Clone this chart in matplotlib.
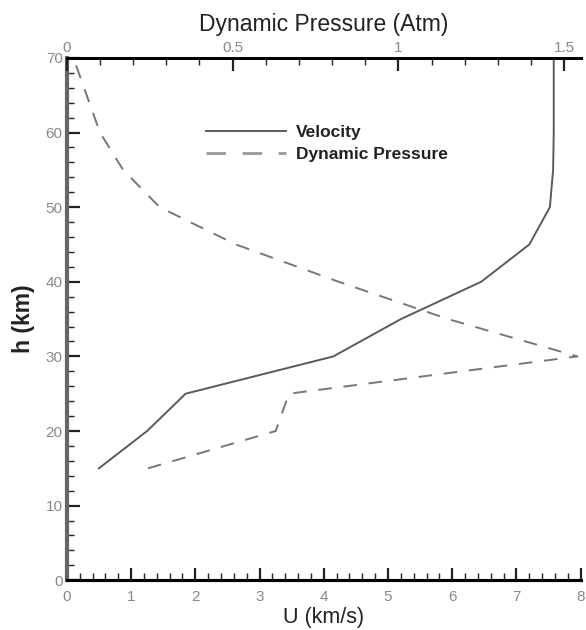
import matplotlib
matplotlib.use("Agg")
import matplotlib.pyplot as plt
from matplotlib.ticker import MultipleLocator

# altitude nodes (km)
h_vel = [15, 20, 25, 30, 35, 40, 45, 50, 55, 60, 65, 70]
velocity = [0.5, 1.25, 1.85, 4.15, 5.2, 6.45, 7.2, 7.52, 7.57, 7.58, 7.58, 7.58]

h_q = [15, 20, 25, 30, 35, 40, 45, 50, 55, 60, 65, 70]
dyn_pressure = [0.245, 0.63, 0.67, 1.54, 1.15, 0.82, 0.51, 0.28, 0.17, 0.10, 0.06, 0.02]

plt.rcParams['font.family'] = ['Liberation Sans', 'DejaVu Sans']

fig = plt.figure(figsize=(5.86, 6.30), dpi=100)
ax = fig.add_axes([0.114, 0.079, 0.877, 0.829])

vel_line, = ax.plot(velocity, h_vel, color='#5a5a5a', lw=1.4, label='Velocity')
ax.set_xlim(0, 8)
ax.set_ylim(0, 70)
ax.xaxis.set_major_locator(MultipleLocator(1))
ax.xaxis.set_minor_locator(MultipleLocator(0.2))
ax.yaxis.set_major_locator(MultipleLocator(10))
ax.yaxis.set_minor_locator(MultipleLocator(2))
ax.tick_params(which='both', direction='in', colors='#222222', labelcolor='#888888',
               labelsize=11, right=False, top=False)
ax.tick_params(axis='x', pad=7)
ax.tick_params(axis='y', pad=3)
ax.tick_params(which='major', length=9, width=1.6)
ax.tick_params(which='minor', length=5, width=1.0)
ax.set_xlabel('U (km/s)', fontsize=15.5, color='#222222', labelpad=2)
ax.set_ylabel('h (km)', fontsize=16.5, fontweight='bold', color='#222222', labelpad=8)

ax2 = ax.twiny()
q_line, = ax2.plot(dyn_pressure, h_q, color='#777777', lw=1.4, dashes=(7, 6),
                   label='Dynamic Pressure')
ax2.set_xlim(0, 1.55)
ax2.xaxis.set_major_locator(MultipleLocator(0.5))
ax2.xaxis.set_minor_locator(MultipleLocator(0.1))
ax2.xaxis.set_major_formatter(plt.FuncFormatter(lambda v, p: f'{v:g}'))
ax2.tick_params(which='both', direction='in', colors='#222222', labelcolor='#888888',
                labelsize=11, pad=2)
ax2.tick_params(which='major', length=9, width=1.6)
ax2.tick_params(which='minor', length=5, width=1.0)
ax2.set_xlabel('Dynamic Pressure (Atm)', fontsize=16.5, color='#222222', labelpad=7)

for a in (ax, ax2):
    a.spines['right'].set_visible(False)
    a.spines['top'].set_linewidth(2.0)
    a.spines['bottom'].set_linewidth(2.2)
ax.spines['left'].set_linewidth(3.0)
ax.spines['left'].set_color('#666666')
ax2.spines['left'].set_visible(False)

leg = ax.legend([vel_line, q_line], ['Velocity', 'Dynamic Pressure'], loc='upper left',
                bbox_to_anchor=(0.24, 0.902), frameon=False,
                prop={'size': 12.5, 'weight': 'bold'},
                handlelength=4.6, handletextpad=0.6, labelspacing=0.4)
for t in leg.get_texts():
    t.set_color('#222222')
leg.get_lines()[1].set_color('#999999')
leg.get_lines()[1].set_linewidth(2.0)

fig.savefig('out.png', dpi=100)
